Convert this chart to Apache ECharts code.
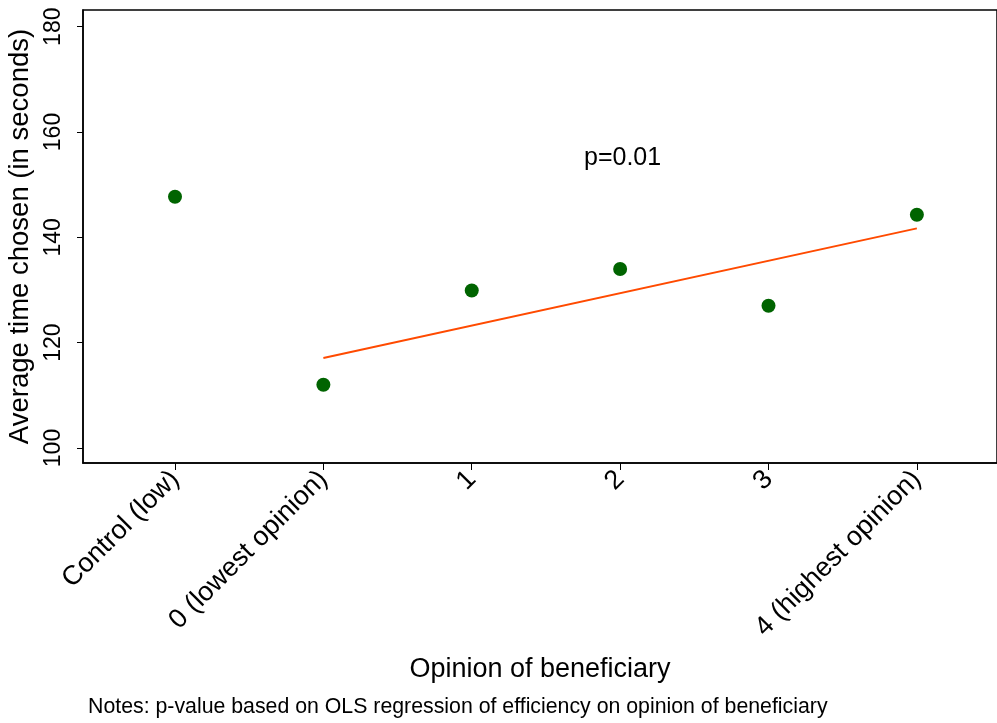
<!DOCTYPE html>
<html>
<head>
<meta charset="utf-8">
<script src="https://cdn.jsdelivr.net/npm/echarts@6/dist/echarts.min.js"></script>
<style>
  html, body { margin: 0; padding: 0; background: #fff; }
  #chart { width: 997px; height: 723px; }
</style>
</head>
<body>
<div id="chart"></div>
<script>
var categories = ['Control (low)', '0 (lowest opinion)', '1', '2', '3', '4 (highest opinion)'];
var positions = [-1, 0, 1, 2, 3, 4];
var avgTime = [147.7, 112.0, 129.9, 134.0, 127.0, 144.3];
var fitX = [0, 4];
var fitY = [117.1, 141.7];
var yTicks = [100, 120, 140, 160, 180];

var font = 'Liberation Sans, Arial, Helvetica, sans-serif';

var points = positions.map(function (p, i) { return [p, avgTime[i]]; });
var fitLine = fitX.map(function (p, i) { return [p, fitY[i]]; });

var myChart = echarts.init(document.getElementById('chart'));

var option = {
    animation: false,
    grid: {
        left: 83,
        right: 0,
        top: 10,
        bottom: 260,
        outerBoundsMode: 'none',
        containLabel: false,
        show: true,
        borderColor: '#000',
        borderWidth: 1.5
    },
    xAxis: {
        type: 'value',
        min: -1.62,
        max: 4.54,
        name: 'Opinion of beneficiary',
        nameLocation: 'middle',
        nameGap: 193,
        nameTextStyle: { fontFamily: font, fontSize: 27, color: '#000' },
        splitLine: { show: false },
        axisLine: { onZero: false, lineStyle: { color: '#000', width: 1.5 } },
        axisTick: {
            customValues: positions,
            length: 7,
            lineStyle: { color: '#000', width: 1 }
        },
        axisLabel: {
            customValues: positions,
            rotate: 45,
            margin: 12,
            fontFamily: font,
            fontSize: 27,
            color: '#000',
            formatter: function (v) {
                return categories[positions.indexOf(v)];
            }
        }
    },
    yAxis: {
        type: 'value',
        min: 97.15,
        max: 183.17,
        name: 'Average time chosen (in seconds)',
        nameLocation: 'middle',
        nameGap: 46,
        nameTextStyle: { fontFamily: font, fontSize: 27.5, color: '#000' },
        splitLine: { show: false },
        axisLine: { show: true, onZero: false, lineStyle: { color: '#000', width: 1.5 } },
        axisTick: {
            customValues: yTicks,
            length: 6,
            lineStyle: { color: '#000', width: 1 }
        },
        axisLabel: {
            customValues: yTicks,
            rotate: 90,
            margin: 18,
            fontFamily: font,
            fontSize: 23,
            color: '#000'
        }
    },
    series: [
        {
            type: 'line',
            data: fitLine,
            symbol: 'none',
            lineStyle: { color: '#ff4a00', width: 2 },
            z: 2
        },
        {
            type: 'scatter',
            data: points,
            symbol: 'circle',
            symbolSize: 14,
            itemStyle: { color: '#006400', opacity: 1 },
            z: 3
        }
    ],
    graphic: [
        {
            type: 'text',
            left: 584,
            top: 146,
            style: { text: 'p=0.01', font: '25px ' + font, fill: '#000' }
        },
        {
            type: 'text',
            left: 88,
            top: 697,
            style: {
                text: 'Notes: p-value based on OLS regression of efficiency on opinion of beneficiary',
                font: '21.3px ' + font,
                fill: '#000'
            }
        }
    ]
};

myChart.setOption(option);
</script>
</body>
</html>
